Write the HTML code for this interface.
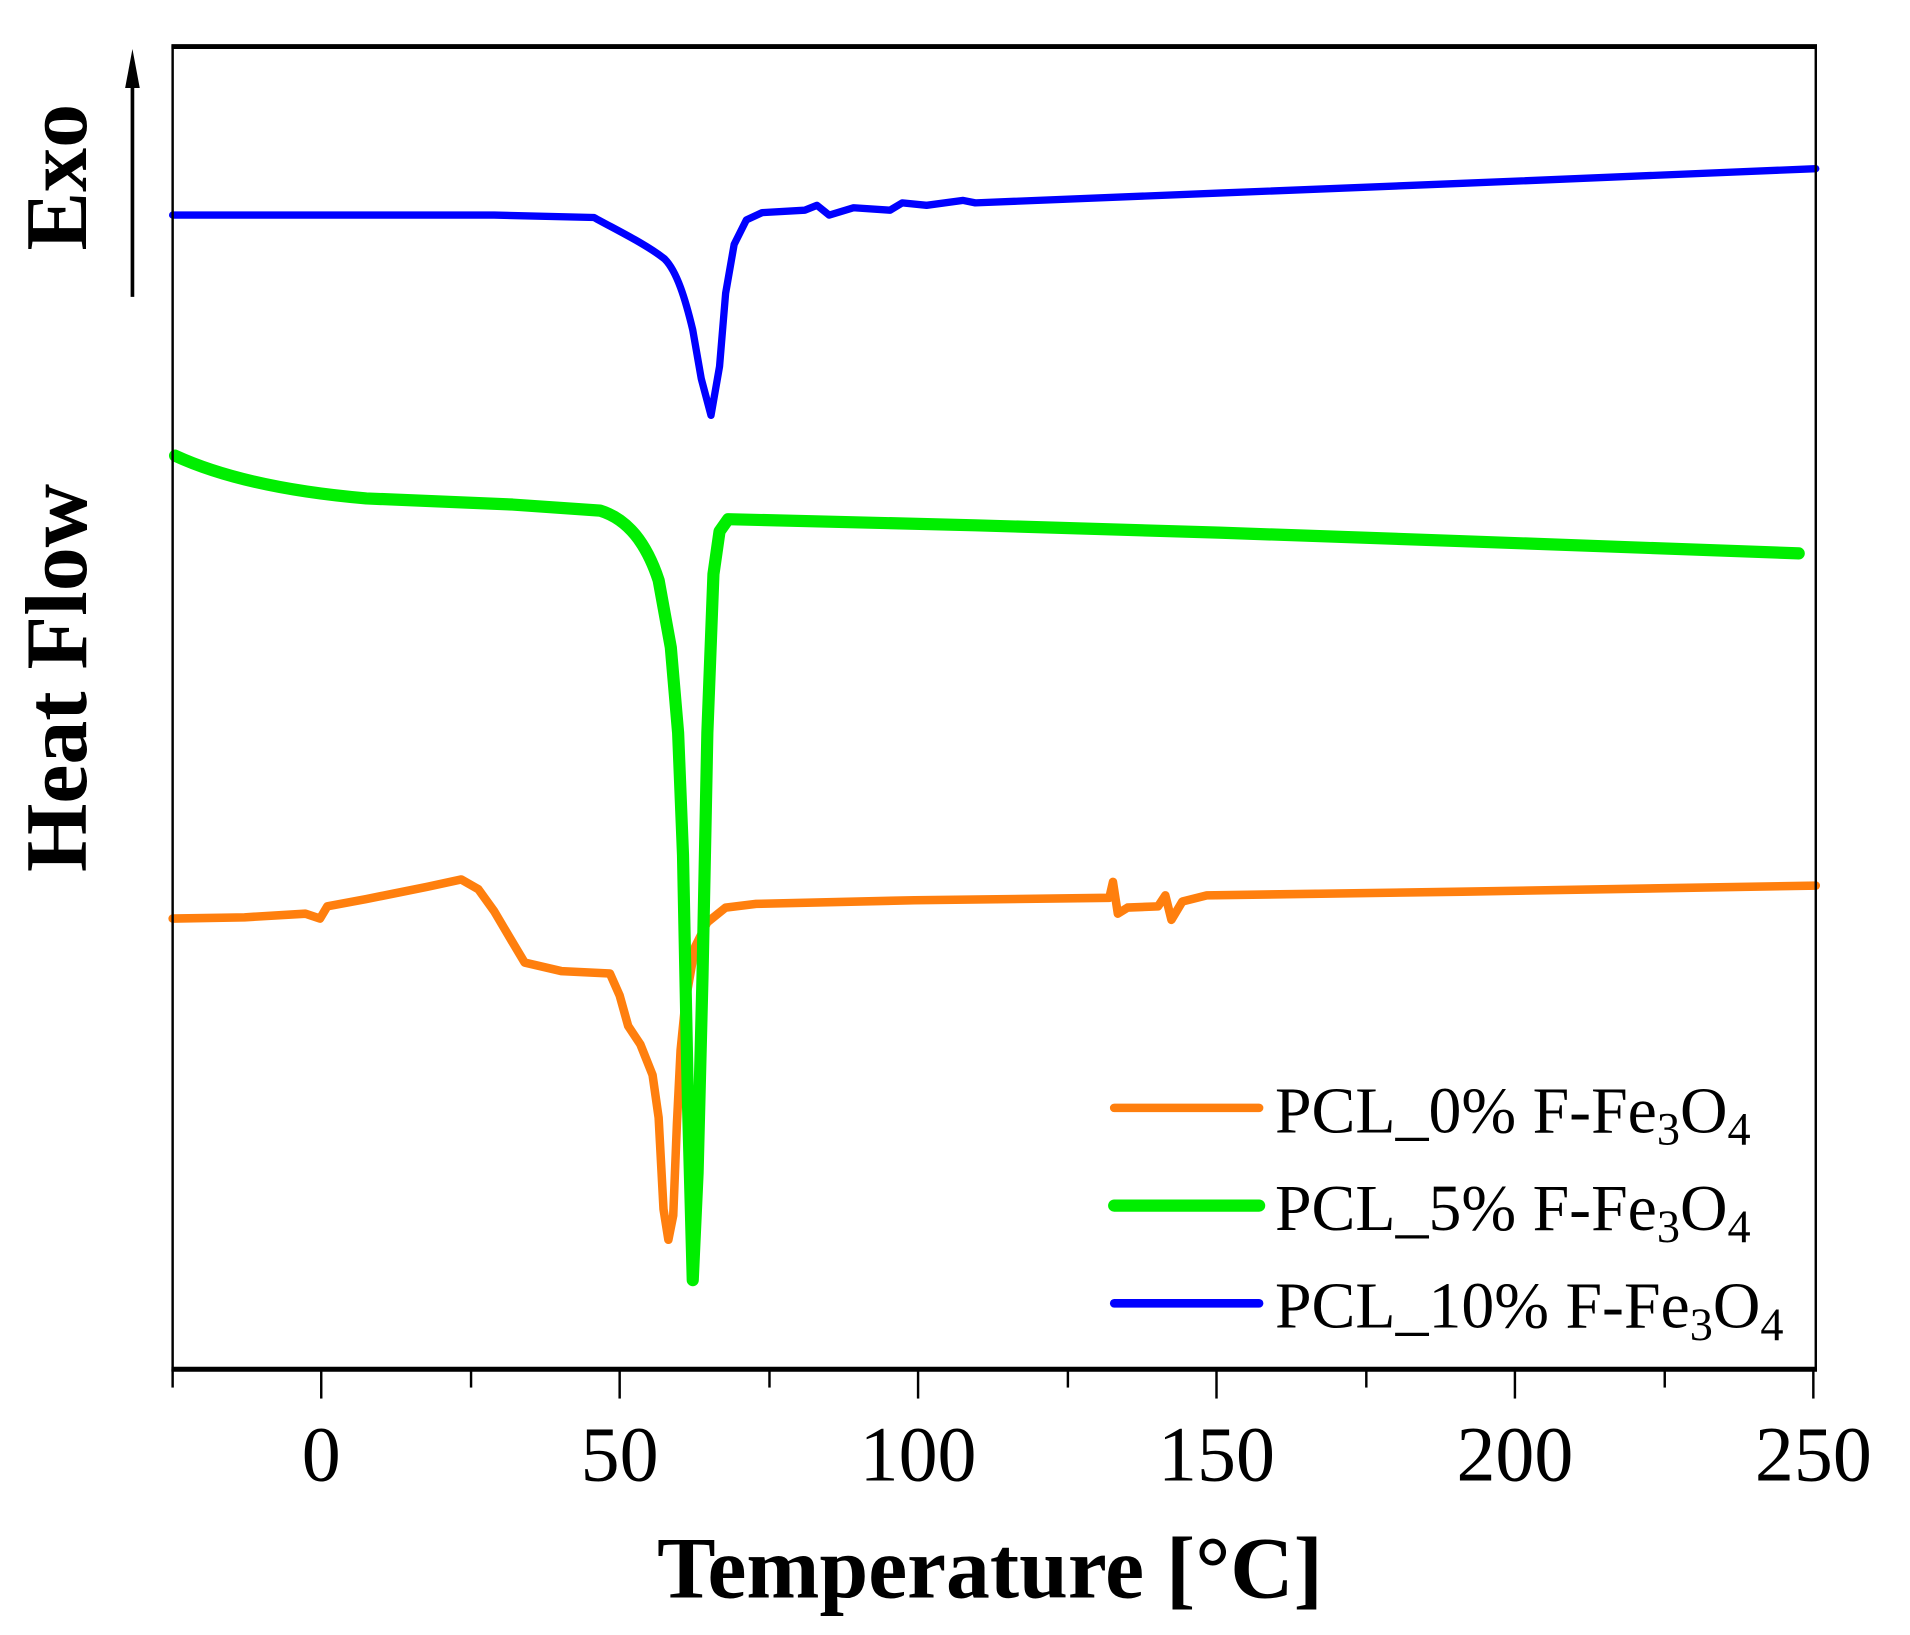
<!DOCTYPE html>
<html><head><meta charset="utf-8"><style>html,body{margin:0;padding:0;background:#fff}svg{display:block}</style></head>
<body>
<svg width="1910" height="1635" viewBox="0 0 1560 1335" preserveAspectRatio="none" xmlns="http://www.w3.org/2000/svg">
<rect width="1560" height="1335" fill="#fff"/>
<g transform="matrix(0.99484 0 0 0.99724 0.73 0.10)">
<g fill="none" stroke-linejoin="round" stroke-linecap="round">
<path stroke="#ff7f0e" stroke-width="7" d="M141,752 L200,751 L250,748 L262,752 L268,742 L300,736 L350,726 L378,720 L392,728 L405,746 L418,768 L430,788 L460,795 L500,797 L508,815 L515,840 L525,855 L535,880 L540,915 L544,990 L548,1015 L552,995 L555,920 L558,860 L562,820 L570,775 L580,755 L595,743 L620,740 L750,737 L910,735 L913,722 L917,748 L925,743 L950,742 L956,733 L961,753 L970,738 L990,733 L1200,730 L1490,725"/>
<path stroke="#00ee00" stroke-width="10" d="M143,373 C180,390 230,402 300,408 L420,413 L492,418 C515,425 530,445 540,475 L550,530 L556,600 L560,700 L564,900 L568,1048 L572,960 L576,800 L580,600 L585,470 L590,435 L597,425 L800,430 L1000,436 L1200,443 L1476,453"/>
<path stroke="#0000ff" stroke-width="6" d="M141,176 L405,176 L487,178 C505,188 530,200 545,212 C555,222 562,245 568,270 L575,310 L583,340 L590,300 L595,240 L602,200 L612,180 L625,174 L660,172 L670,168 L680,176 L700,170 L730,172 L740,166 L760,168 L790,164 L800,166 L1000,158 L1200,150 L1490,138"/>
</g>
<g stroke="#000">
<rect x="141" y="38" width="1349" height="1084" fill="none" stroke-width="2"/>
<line x1="140" y1="38" x2="1491" y2="38" stroke-width="4"/>
<line x1="140" y1="1121" x2="1491" y2="1121" stroke-width="4"/>
<g stroke-width="2">
<line x1="263" y1="1121" x2="263" y2="1145"/><line x1="508" y1="1121" x2="508" y2="1145"/><line x1="753" y1="1121" x2="753" y2="1145"/><line x1="998" y1="1121" x2="998" y2="1145"/><line x1="1243" y1="1121" x2="1243" y2="1145"/><line x1="1488" y1="1121" x2="1488" y2="1145"/>
<line x1="141" y1="1121" x2="141" y2="1136"/><line x1="386" y1="1121" x2="386" y2="1136"/><line x1="631" y1="1121" x2="631" y2="1136"/><line x1="876" y1="1121" x2="876" y2="1136"/><line x1="1121" y1="1121" x2="1121" y2="1136"/><line x1="1366" y1="1121" x2="1366" y2="1136"/>
</g>
<line x1="108" y1="243" x2="108" y2="62" stroke-width="3"/>
</g>
<polygon points="108,40 102,72 114,72" fill="#000"/>
<g font-family="Liberation Serif, serif" fill="#000">
<g font-size="64" text-anchor="middle">
<text x="263" y="1212">0</text><text x="508" y="1212">50</text><text x="753" y="1212">100</text><text x="998" y="1212">150</text><text x="1243" y="1212">200</text><text x="1488" y="1212">250</text>
</g>
<text x="812" y="1308" font-size="72" font-weight="bold" text-anchor="middle">Temperature [°C]</text>
<text transform="translate(70,555) rotate(-90)" font-size="72" font-weight="bold" text-anchor="middle">Heat Flow</text>
<text transform="translate(70,145) rotate(-90)" font-size="72" font-weight="bold" text-anchor="middle">Exo</text>
<g stroke-width="7" stroke-linecap="round">
<line x1="914" y1="907" x2="1033" y2="907" stroke="#ff7f0e"/>
<line x1="914" y1="987" x2="1033" y2="987" stroke="#00ee00" stroke-width="10"/>
<line x1="914" y1="1067" x2="1033" y2="1067" stroke="#0000ff"/>
</g>
<g font-size="54">
<text x="1046" y="927">PCL_0% F-Fe<tspan font-size="38" dy="10">3</tspan><tspan dy="-10">O</tspan><tspan font-size="38" dy="10">4</tspan></text>
<text x="1046" y="1007">PCL_5% F-Fe<tspan font-size="38" dy="10">3</tspan><tspan dy="-10">O</tspan><tspan font-size="38" dy="10">4</tspan></text>
<text x="1046" y="1087">PCL_10% F-Fe<tspan font-size="38" dy="10">3</tspan><tspan dy="-10">O</tspan><tspan font-size="38" dy="10">4</tspan></text>
</g>
</g>
</g>
</svg>
</body></html>
